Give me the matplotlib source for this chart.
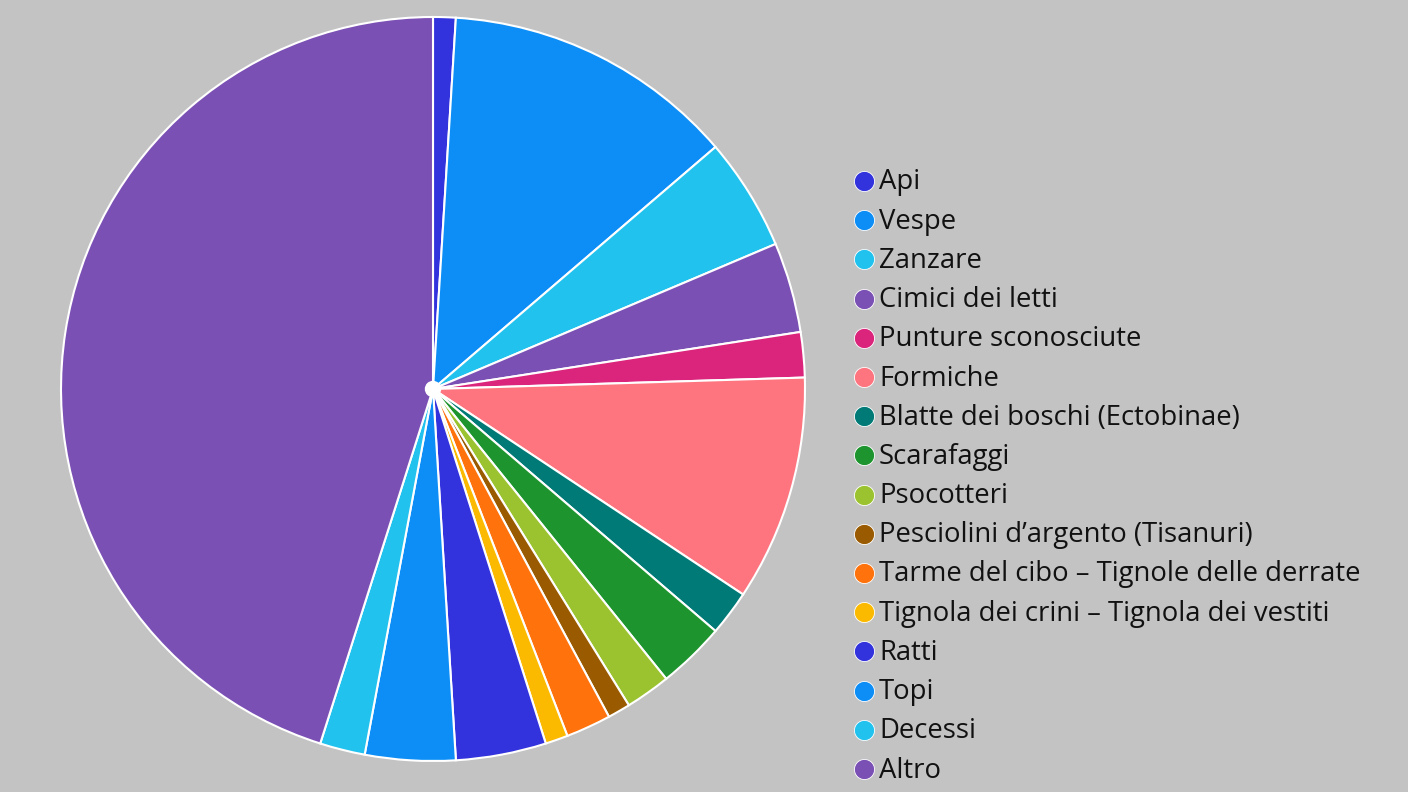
import matplotlib
matplotlib.use("Agg")
import matplotlib.pyplot as plt

labels = ["Api", "Vespe", "Zanzare", "Cimici dei letti", "Punture sconosciute",
          "Formiche", "Blatte dei boschi (Ectobinae)", "Scarafaggi", "Psocotteri",
          "Pesciolini d\u2019argento (Tisanuri)", "Tarme del cibo \u2013 Tignole delle derrate",
          "Tignola dei crini \u2013 Tignola dei vestiti", "Ratti", "Topi", "Decessi", "Altro"]
values = [1, 13, 5, 4, 2, 10, 2, 3, 2, 1, 2, 1, 4, 4, 2, 46]
colors = ["#3333DD", "#0D8EF6", "#22C2EE", "#7B50B5", "#DB247B", "#FE7580",
          "#007A76", "#1E942E", "#9BC32F", "#9A5B00", "#FF720C", "#FBBA00",
          "#3333DD", "#0D8EF6", "#22C2EE", "#7B50B5"]

W, H = 1408, 792
BG = "#C3C3C3"
fig = plt.figure(figsize=(W / 100, H / 100), dpi=100, facecolor=BG)
ax = fig.add_axes([0, 0, 1, 1])
ax.set_facecolor(BG)

cx, cy, r = 433, 389, 372
wedges, _ = ax.pie(values, colors=colors, startangle=-90, counterclock=True,
                   center=(cx, cy), radius=r, frame=True,
                   wedgeprops=dict(edgecolor="white", linewidth=1.5))
ax.set_xlim(0, W)
ax.set_ylim(H, 0)
ax.set_aspect("equal")
ax.axis("off")
ax.add_patch(plt.Circle((cx, cy), 7.5, color="white", zorder=5))

x0, y0, dy = 864, 181, 39.2
for i, (lab, col) in enumerate(zip(labels, colors)):
    y = y0 + i * dy
    ax.scatter([x0], [y], s=210, color=col, edgecolors="white", linewidths=0.6, zorder=5)
    ax.text(x0 + 15, y + 1.5, lab, fontsize=19.8, family="Open Sans", va="center",
            ha="left", color="#111111")

fig.savefig("out.png", dpi=100, facecolor=BG)
